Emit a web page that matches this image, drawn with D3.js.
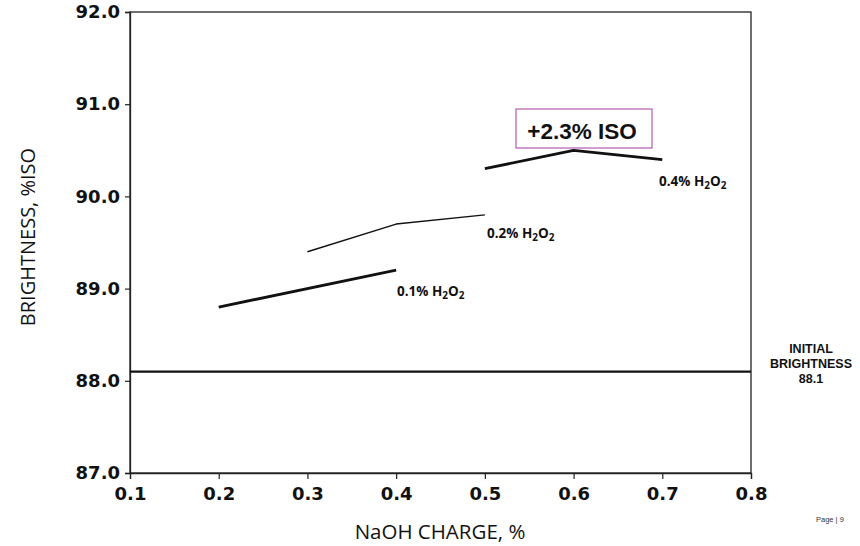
<!DOCTYPE html>
<html>
<head>
<meta charset="utf-8">
<script src="https://cdn.jsdelivr.net/npm/d3@7"></script>
<style>
  html, body { margin: 0; padding: 0; background: #fff; }
  svg { display: block; }
</style>
</head>
<body>
<svg id="chart" width="860" height="546"></svg>
<script>
// NaOH charge (%) on the x axis, brightness (%ISO) on the y axis
const xTicks = [0.1, 0.2, 0.3, 0.4, 0.5, 0.6, 0.7, 0.8];
const yTicks = [87.0, 88.0, 89.0, 90.0, 91.0, 92.0];

// One curve per H2O2 charge
const seriesNames = ["0.1% H2O2", "0.2% H2O2", "0.4% H2O2"];
const charge01 = [[0.2, 88.8], [0.4, 89.2]];
const charge02 = [[0.3, 89.4], [0.4, 89.7], [0.5, 89.8]];
const charge04 = [[0.5, 90.3], [0.6, 90.5], [0.7, 90.4]];
const initialBrightness = 88.1;
const gainLabel = "+2.3% ISO";

const svg = d3.select("#chart");
const plotLeft = 130, plotRight = 751, plotTop = 12, plotBottom = 473;

const x = d3.scaleLinear().domain([0.1, 0.8]).range([plotLeft, plotRight]);
const y = d3.scaleLinear().domain([87, 92]).range([plotBottom, plotTop]);

const tickFont = "'DejaVu Sans', 'Liberation Sans', sans-serif";
const titleFont = "'Open Sans', 'DejaVu Sans', sans-serif";

// Frame
svg.append("rect")
  .attr("x", plotLeft).attr("y", plotTop)
  .attr("width", plotRight - plotLeft).attr("height", plotBottom - plotTop)
  .attr("fill", "none").attr("stroke", "#222").attr("stroke-width", 1.3);

// Axes
const xAxis = svg.append("g")
  .attr("transform", `translate(0,${plotBottom})`)
  .call(d3.axisBottom(x).tickValues(xTicks).tickFormat(d3.format(".1f")).tickSize(6).tickPadding(8));
const yAxis = svg.append("g")
  .attr("transform", `translate(${plotLeft},0)`)
  .call(d3.axisLeft(y).tickValues(yTicks).tickFormat(d3.format(".1f")).tickSize(5).tickPadding(5));

[xAxis, yAxis].forEach(g => {
  g.select(".domain").attr("stroke", "#222").attr("stroke-width", 1.3);
  g.selectAll(".tick line").attr("stroke", "#222").attr("stroke-width", 1.2);
  g.selectAll(".tick text")
    .attr("fill", "#111")
    .style("font-family", tickFont)
    .style("font-weight", "bold")
    .style("font-size", "18px");
});

// Axis titles
svg.append("text")
  .attr("transform", `translate(35,237) rotate(-90)`)
  .attr("text-anchor", "middle")
  .style("font-family", titleFont)
  .style("font-size", "20px")
  .attr("fill", "#111")
  .text("BRIGHTNESS, %ISO");

svg.append("text")
  .attr("x", 440).attr("y", 539)
  .attr("text-anchor", "middle")
  .style("font-family", titleFont)
  .style("font-size", "20.5px")
  .attr("fill", "#111")
  .text("NaOH CHARGE, %");

// Initial brightness reference line
svg.append("line")
  .attr("x1", x(0.1)).attr("x2", x(0.8))
  .attr("y1", y(initialBrightness)).attr("y2", y(initialBrightness))
  .attr("stroke", "#111").attr("stroke-width", 2.2);

const note = svg.append("g")
  .attr("text-anchor", "middle")
  .style("font-family", "'Liberation Sans', Arial, sans-serif")
  .style("font-weight", "bold")
  .style("font-size", "12.5px")
  .attr("fill", "#111");
["INITIAL", "BRIGHTNESS", d3.format(".1f")(initialBrightness)].forEach((t, i) => {
  note.append("text").attr("x", 811).attr("y", 353 + i * 15).text(t);
});

// Curves
const line = d3.line().x(d => x(d[0])).y(d => y(d[1]));
const curves = [
  { data: charge01, width: 2.8, label: seriesNames[0], lx: 397, ly: 296 },
  { data: charge02, width: 1.4, label: seriesNames[1], lx: 487, ly: 238 },
  { data: charge04, width: 2.8, label: seriesNames[2], lx: 659, ly: 186 }
];
curves.forEach(c => {
  svg.append("path")
    .datum(c.data)
    .attr("d", line)
    .attr("fill", "none")
    .attr("stroke", "#111")
    .attr("stroke-width", c.width)
    .attr("stroke-linejoin", "round");

  const [pct] = c.label.split(" ");
  const t = svg.append("text")
    .attr("x", c.lx).attr("y", c.ly)
    .style("font-family", titleFont)
    .style("font-weight", "bold")
    .style("font-size", "13.5px")
    .attr("fill", "#111");
  t.append("tspan").text(pct + " H");
  t.append("tspan").attr("dy", 3).style("font-size", "10px").text("2");
  t.append("tspan").attr("dy", -3).text("O");
  t.append("tspan").attr("dy", 3).style("font-size", "10px").text("2");
});

// Brightness gain callout
svg.append("rect")
  .attr("x", 516).attr("y", 109)
  .attr("width", 136).attr("height", 39)
  .attr("fill", "#fff")
  .attr("stroke", "#b55ab0").attr("stroke-width", 1.2);
svg.append("text")
  .attr("x", 582).attr("y", 139)
  .attr("text-anchor", "middle")
  .style("font-family", "'Liberation Sans', Arial, sans-serif")
  .style("font-weight", "bold")
  .style("font-size", "22.5px")
  .attr("fill", "#111")
  .text(gainLabel);

// Page marker
svg.append("text")
  .attr("x", 816).attr("y", 522)
  .style("font-family", "'Liberation Sans', Arial, sans-serif")
  .style("font-size", "7.5px")
  .attr("fill", "#333")
  .text("Page | 9");
</script>
</body>
</html>
